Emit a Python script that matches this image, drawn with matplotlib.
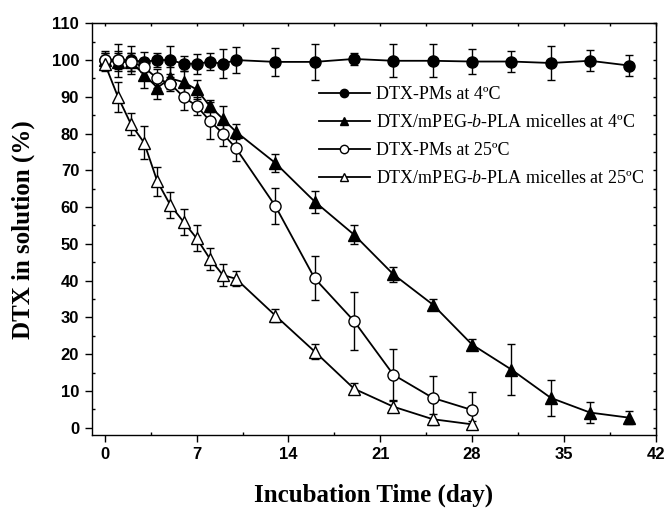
import numpy as np
import matplotlib
matplotlib.use('agg')
import matplotlib.pyplot as plt
from matplotlib.ticker import MultipleLocator

plt.rcParams['mathtext.fontset'] = 'custom'
plt.rcParams['mathtext.rm'] = 'Liberation Serif'
plt.rcParams['mathtext.it'] = 'Liberation Serif:italic'

# Data
# DTX-PMs at 4ºC
day_pm4 = [0, 1, 2, 3, 4, 5, 6, 7, 8, 9, 10, 13, 16, 19, 22, 25, 28, 31, 34, 37, 40]
pm4 = [100, 100, 100, 99.5, 100, 100, 99, 99, 99.5, 99, 100, 99.5, 99.5, 100.3, 99.8, 99.8, 99.6, 99.6, 99.2, 99.8, 98.5]
pm4_err = [2.5, 4.5, 3.7, 2.8, 2, 3.7, 2, 2.7, 2.3, 4, 3.5, 3.8, 4.8, 1.7, 4.5, 4.5, 3.5, 2.9, 4.7, 2.9, 2.8]

# DTX/mPEG-b-PLA micelles at 4ºC
day_mc4 = [0, 1, 2, 3, 4, 5, 6, 7, 8, 9, 10, 13, 16, 19, 22, 25, 28, 31, 34, 37, 40]
mc4 = [100, 99.5, 99.5, 96, 92.5, 95, 94, 92, 87.5, 84, 80.5, 72, 61.5, 52.5, 41.7, 33.5, 22.6, 15.8, 8.1, 4.1, 2.7]
mc4_err = [2, 2.5, 2.5, 3.5, 3, 3, 3, 2.5, 1.5, 3.5, 2, 2.5, 3, 2.5, 2, 1.5, 1.4, 7, 4.8, 2.9, 1.8]

# DTX-PMs at 25ºC
day_pm25 = [0, 1, 2, 3, 4, 5, 6, 7, 8, 9, 10, 13, 16, 19, 22, 25, 28]
pm25 = [100, 100, 99.5, 98, 95, 93.5, 90, 87.5, 83.5, 80, 76, 60.3, 40.6, 29, 14.4, 8.1, 4.8]
pm25_err = [2, 2.5, 2.5, 2.5, 2.5, 2, 3.5, 2.5, 5, 3.5, 3.5, 5, 6, 8, 7, 6, 5]

# DTX/mPEG-b-PLA micelles at 25ºC
day_mc25 = [0, 1, 2, 3, 4, 5, 6, 7, 8, 9, 10, 13, 16, 19, 22, 25, 28]
mc25 = [99, 90, 82.5, 77.5, 67, 60.5, 56, 51.5, 46, 41.5, 40.5, 30.5, 20.7, 10.6, 5.7, 2.3, 0.9]
mc25_err = [2, 4, 3, 4.5, 4, 3.5, 3.5, 3.5, 3, 3, 2, 1.8, 2, 1.5, 1.5, 1.5, 1]

labels = [u'DTX-PMs at 4ºC',
          u'DTX/mPEG-$\\it{b}$-PLA micelles at 4ºC',
          u'DTX-PMs at 25ºC',
          u'DTX/mPEG-$\\it{b}$-PLA micelles at 25ºC']

fig = plt.figure(figsize=(6.66, 5.12), dpi=100)
ax = fig.add_axes([0.1377, 0.1504, 0.8468, 0.8041])

series = [(day_pm4, pm4, pm4_err, 'o', 'black'),
          (day_mc4, mc4, mc4_err, '^', 'black'),
          (day_pm25, pm25, pm25_err, 'o', 'white'),
          (day_mc25, mc25, mc25_err, '^', 'white')]

for (x, y, e, mk, fc), lab in zip(series, labels):
    ax.errorbar(x, y, yerr=e, fmt='none', ecolor='black', elinewidth=1.0, capsize=3.2, capthick=1.0, zorder=2)
    ax.plot(x, y, marker=mk, color='black', markerfacecolor=fc, markeredgecolor='black',
            markersize=8, markeredgewidth=1.0, linewidth=1.3, label=lab, zorder=3)

ax.set_xlim(-1, 42)
ax.set_ylim(-2, 110)
ax.xaxis.set_major_locator(MultipleLocator(7))
ax.xaxis.set_minor_locator(MultipleLocator(3.5))
ax.yaxis.set_major_locator(MultipleLocator(10))
ax.yaxis.set_minor_locator(MultipleLocator(5))

ax.tick_params(which='major', direction='out', length=5, width=1.0, labelsize=12, pad=4)
ax.tick_params(which='minor', direction='in', length=2.5, width=1.0)
for lbl in ax.get_xticklabels() + ax.get_yticklabels():
    lbl.set_fontfamily('Liberation Sans')
    lbl.set_fontweight('bold')

# mirrored ticks on top and right
sec_y = ax.secondary_yaxis('right')
sec_y.yaxis.set_major_locator(MultipleLocator(5))
sec_y.tick_params(direction='in', length=2.5, width=1.0, labelright=False)
sec_x = ax.secondary_xaxis('top')
sec_x.xaxis.set_major_locator(MultipleLocator(3.5))
sec_x.tick_params(direction='in', length=2.5, width=1.0, labeltop=False)

for sp in ax.spines.values():
    sp.set_linewidth(1.0)

ax.set_xlabel('Incubation Time (day)', fontsize=18, fontweight='bold', family='Liberation Serif', labelpad=15)
ax.set_ylabel('DTX in solution (%)', fontsize=18, fontweight='bold', family='Liberation Serif', labelpad=12)

ax.legend(loc='upper left', bbox_to_anchor=(0.387, 0.87), frameon=False,
          prop={'family': 'Liberation Serif', 'size': 13}, handlelength=2.8,
          handletextpad=0.35, labelspacing=0.62, borderpad=0, markerscale=0.75)

plt.savefig('out.png', dpi=100)
